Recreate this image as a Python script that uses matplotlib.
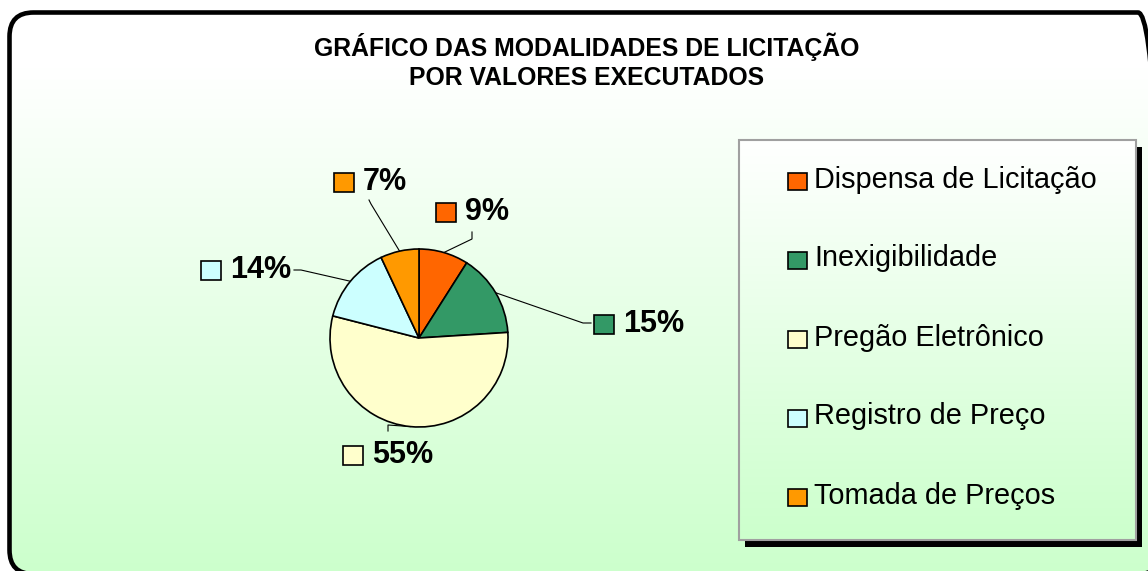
import numpy as np
import matplotlib.pyplot as plt
from matplotlib.patches import FancyBboxPatch, Rectangle

# data
labels = ['Dispensa de Licitação', 'Inexigibilidade', 'Pregão Eletrônico',
          'Registro de Preço', 'Tomada de Preços']
values = [9, 15, 55, 14, 7]
colors = ['#FF6600', '#339966', '#FFFFCC', '#CCFFFF', '#FF9900']
title = 'GRÁFICO DAS MODALIDADES DE LICITAÇÃO\nPOR VALORES EXECUTADOS'

W, H = 1148, 571
plt.rcParams['font.family'] = ['Liberation Sans', 'DejaVu Sans']

fig = plt.figure(figsize=(W / 100, H / 100), dpi=100)
fig.patch.set_facecolor('white')
ax = fig.add_axes([0, 0, 1, 1])
ax.axis('off')


def fy(y):
    # pixel row (top-down) -> data y
    return H - y


green = np.array([0xCC, 0xFF, 0xCC]) / 255.0


def gradient(x0, y0, x1, y1, clip, start=0.0, z=0):
    g = np.clip((np.linspace(0, 1, 256) - start) / (1 - start), 0, 1)[:, None, None]
    img = (1 - g) * np.ones(3) + g * green
    im = ax.imshow(img, extent=(x0, x1, fy(y1), fy(y0)), aspect='auto',
                   zorder=z, interpolation='bilinear')
    im.set_clip_path(clip)


# outer rounded frame with gradient fill (right/bottom run off the image)
fx0, fy0, fx1, fy1 = 9.5, 12.5, 1162, 574
frame = FancyBboxPatch((fx0, fy(fy1)), fx1 - fx0, fy1 - fy0,
                       boxstyle='round,pad=0,rounding_size=24',
                       facecolor='none', edgecolor='black', linewidth=3.3,
                       zorder=5, clip_on=False)
ax.add_patch(frame)
gradient(fx0, fy0, fx1, fy1, frame, start=0.1)

ax.text(587, fy(61), title, ha='center', va='center', fontsize=17.8,
        fontweight='bold', linespacing=1.25, zorder=6)

# pie
cx, cy, r = 419, fy(338), 89
wedges, _ = ax.pie(values, colors=colors, startangle=90, counterclock=False,
                   center=(cx, cy), radius=r, frame=True,
                   wedgeprops=dict(edgecolor='black', linewidth=1.2))
for w in wedges:
    w.set_zorder(3)

# data labels: box left x, centre y; leader line tail points
lab_pos = [(436, 212), (594, 324), (343, 455), (201, 270), (334, 182)]
leaders = [[(472, 239), (472, 232)], [(583, 323), (591, 323)],
           [(388, 425), (388, 431)], [(301, 270), (294, 270)],
           [(371, 204), (369, 200)]]
for w, v, c, (bx, by), tail in zip(wedges, values, colors, lab_pos, leaders):
    mid = np.deg2rad((w.theta1 + w.theta2) / 2)
    pts = [(cx + r * np.cos(mid), cy + r * np.sin(mid))] + [(x, fy(y)) for x, y in tail]
    xs, ys = zip(*pts)
    ax.plot(xs, ys, color='black', linewidth=0.8, zorder=2)
    ax.add_patch(Rectangle((bx, fy(by) - 9.5), 20, 19, facecolor=c,
                           edgecolor='black', linewidth=1.2, zorder=4))
    ax.text(bx + 29, fy(by), f'{v}%', ha='left', va='center', fontsize=22,
            fontweight='bold', zorder=4)

# legend box with shadow
lx0, ly0, lx1, ly1 = 739, 140, 1136, 540
ax.add_patch(Rectangle((lx0 + 6, fy(ly1 + 7)), lx1 - lx0, ly1 - ly0,
                       facecolor='black', edgecolor='none', zorder=1))
lbox = Rectangle((lx0, fy(ly1)), lx1 - lx0, ly1 - ly0, facecolor='none',
                 edgecolor='#A0A0A0', linewidth=1.5, zorder=2)
ax.add_patch(lbox)
gradient(lx0, ly0, lx1, ly1, lbox, z=1.5)
for i, (lab, c) in enumerate(zip(labels, colors)):
    yy = fy(181.5 + i * 79)
    ax.add_patch(Rectangle((788, yy - 8.5), 19, 17, facecolor=c,
                           edgecolor='black', linewidth=1.2, zorder=4))
    ax.text(814, yy + 2, lab, ha='left', va='center', fontsize=20.8, zorder=4)

ax.set_xlim(0, W)
ax.set_ylim(0, H)
ax.set_aspect('auto')

fig.savefig('out.png', dpi=100)
